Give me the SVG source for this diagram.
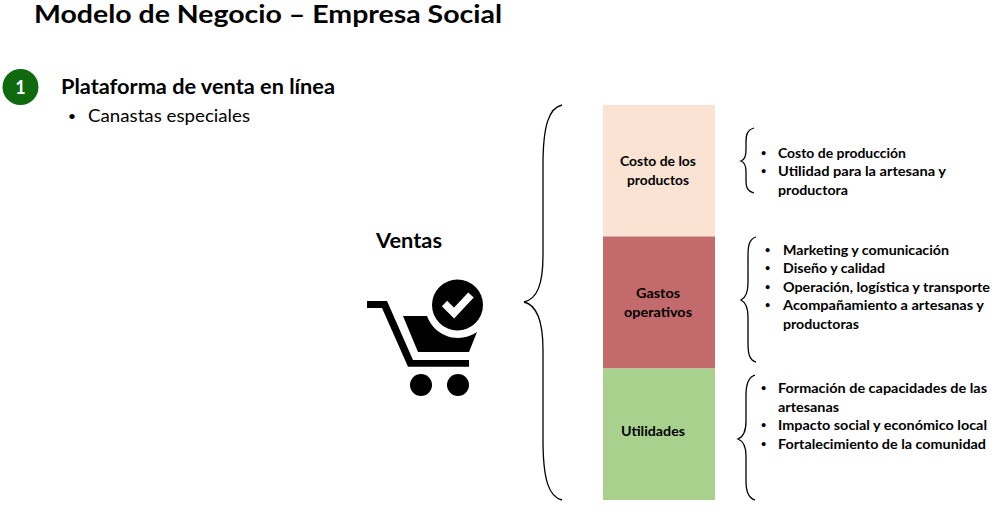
<svg xmlns="http://www.w3.org/2000/svg" width="1005" height="514" viewBox="0 0 1005 514">
<style>
text{font-family:Lato,"Open Sans","Liberation Sans",sans-serif;fill:#000}
.b{font-weight:700}
.l{font-size:13.500px;font-weight:700}
.d{font-size:9px;font-weight:700}
.c{font-size:13.500px;font-weight:700}
.br{fill:none;stroke:#000;stroke-width:1.3}
</style>
<rect width="1005" height="514" fill="#fff"/>
<g id="title"><text class="b" x="34" y="23" font-size="25" textLength="468" lengthAdjust="spacingAndGlyphs">Modelo de Negocio – Empresa Social</text></g>
<g id="badge"><circle cx="20.500" cy="87" r="18" fill="#0f6a0f"/><text class="b" x="20.500" y="93.500" font-size="18" text-anchor="middle" style="fill:#fff">1</text></g>
<g id="platform">
<text class="b" x="61" y="94" font-size="20" textLength="274" lengthAdjust="spacingAndGlyphs">Plataforma de venta en línea</text>
<text x="68.500" y="120" font-size="12" font-weight="700">•</text>
<text x="88" y="122" font-size="18" textLength="162" lengthAdjust="spacingAndGlyphs">Canastas especiales</text>
</g>
<g id="ventas">
<text class="b" x="376" y="248" font-size="20" textLength="66" lengthAdjust="spacingAndGlyphs">Ventas</text>
<g id="cart">
<path d="M367 301H387L413 360H469V366.700H408L382 308H367Z"/>
<path d="M403 316H427A33 33 0 0 0 477 332L469 352H418Z"/>
<circle cx="421" cy="385" r="11"/><circle cx="458" cy="385" r="11"/>
<circle cx="457.500" cy="305" r="25.500"/>
<path d="M444.500 303.500L454 313L471 295" fill="none" stroke="#fff" stroke-width="7.500"/>
</g>
</g>
<g id="connectors">
<path class="br" d="M562 105C549 108 543 125 543 165V255C543 285 537 299 524 302C537 305 543 320 543 350V440C543 480 549 497 562 500"/>
<path class="br" d="M754 128C747 130 746 135 746 142V150C746 157 744 160 741 161C744 162 746 165 746 172V180C746 187 747 191 754 193"/>
<path class="br" d="M756 237C749 239 748 246 748 256V283C748 293 745 298 741 300C745 302 748 307 748 317V343C748 353 749 360 756 362"/>
<path class="br" d="M755 375C748 377 746 385 746 395V421C746 431 743 437 738 439C743 441 746 446 746 456V481C746 491 748 498 755 500"/>
</g>
<g id="node-costo">
<rect x="603" y="105" width="112" height="131.500" fill="#fbe3d4"/>
<text class="c" x="620" y="166" textLength="76" lengthAdjust="spacingAndGlyphs">Costo de los</text><text class="c" x="627" y="185" textLength="62" lengthAdjust="spacingAndGlyphs">productos</text>
</g>
<g id="node-gastos">
<rect x="603" y="236.500" width="112" height="132" fill="#c36a6c"/>
<text class="c" x="636" y="298" textLength="44" lengthAdjust="spacingAndGlyphs">Gastos</text><text class="c" x="624" y="317" textLength="68" lengthAdjust="spacingAndGlyphs">operativos</text>
</g>
<g id="node-utilidades">
<rect x="603" y="368.500" width="112" height="131.500" fill="#a9d18e"/>
<text class="c" x="621" y="436" textLength="64" lengthAdjust="spacingAndGlyphs">Utilidades</text>
</g>
<g id="list-costo">
<text class="d" x="761" y="156">•</text><text class="l" x="778" y="158" textLength="128" lengthAdjust="spacingAndGlyphs">Costo de producción</text>
<text class="d" x="761" y="174">•</text><text class="l" x="778" y="176" textLength="168" lengthAdjust="spacingAndGlyphs">Utilidad para la artesana y</text>
<text class="l" x="778" y="195" textLength="70" lengthAdjust="spacingAndGlyphs">productora</text>
</g>
<g id="list-gastos">
<text class="d" x="765" y="253">•</text><text class="l" x="783" y="255" textLength="166" lengthAdjust="spacingAndGlyphs">Marketing y comunicación</text>
<text class="d" x="765" y="271">•</text><text class="l" x="783" y="273" textLength="102" lengthAdjust="spacingAndGlyphs">Diseño y calidad</text>
<text class="d" x="765" y="290">•</text><text class="l" x="783" y="292" textLength="207" lengthAdjust="spacingAndGlyphs">Operación, logística y transporte</text>
<text class="d" x="765" y="308">•</text><text class="l" x="783" y="310" textLength="201" lengthAdjust="spacingAndGlyphs">Acompañamiento a artesanas y</text>
<text class="l" x="783" y="329" textLength="76" lengthAdjust="spacingAndGlyphs">productoras</text>
</g>
<g id="list-utilidades">
<text class="d" x="761" y="391">•</text><text class="l" x="778" y="393" textLength="209" lengthAdjust="spacingAndGlyphs">Formación de capacidades de las</text>
<text class="l" x="778" y="412" textLength="61" lengthAdjust="spacingAndGlyphs">artesanas</text>
<text class="d" x="761" y="428">•</text><text class="l" x="778" y="430" textLength="209" lengthAdjust="spacingAndGlyphs">Impacto social y económico local</text>
<text class="d" x="761" y="447">•</text><text class="l" x="778" y="449" textLength="208" lengthAdjust="spacingAndGlyphs">Fortalecimiento de la comunidad</text>
</g>
</svg>
